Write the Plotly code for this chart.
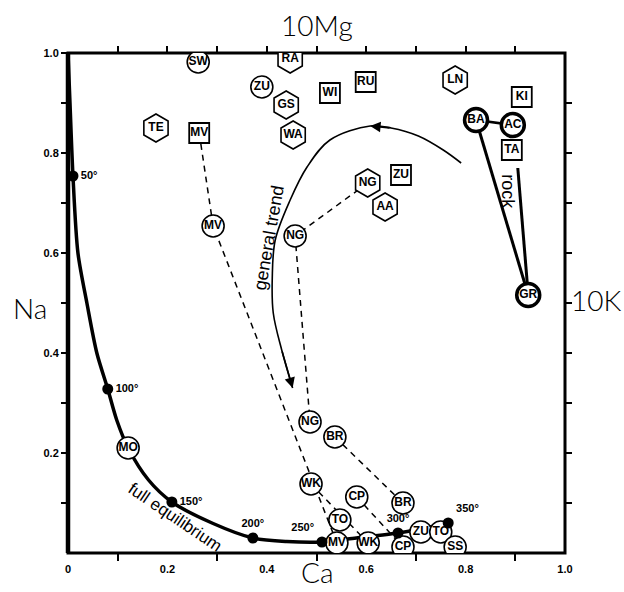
import plotly.graph_objects as go

# ---------------- data ----------------
# full-equilibrium curve (Ca, Na)
eq_x = [0.0, 0.004, 0.01, 0.02, 0.038, 0.058, 0.08, 0.098, 0.121, 0.162, 0.209, 0.292, 0.372, 0.44, 0.511, 0.58, 0.664, 0.71, 0.765]
eq_y = [1.0, 0.9, 0.754, 0.6, 0.5, 0.4, 0.328, 0.266, 0.21, 0.146, 0.102, 0.059, 0.03, 0.023, 0.022, 0.03, 0.04, 0.048, 0.06]

# temperature points on the curve
temp_x = [0.01, 0.08, 0.209, 0.372, 0.511, 0.664, 0.765]
temp_y = [0.754, 0.328, 0.102, 0.03, 0.022, 0.04, 0.06]
temp_labels = ["50°", "100°", "150°", "200°", "250°", "300°", "350°"]
temp_pos = ["middle right", "middle right", "middle right", "top center", "top left", "top center", "top right"]

# general trend curve (from right end, over the top, down to the arrow)
trend_x = [0.791, 0.755, 0.705, 0.65, 0.608, 0.527, 0.481, 0.447, 0.417, 0.411, 0.413, 0.43, 0.452]
trend_y = [0.78, 0.806, 0.834, 0.85, 0.854, 0.826, 0.772, 0.706, 0.626, 0.55, 0.48, 0.406, 0.33]

# sample points
circle_labels = ["SW", "ZU", "MV", "NG", "NG", "BR", "WK", "CP", "BR", "TO", "MV", "WK", "CP", "ZU", "TO", "SS", "MO"]
circle_x = [0.262, 0.39, 0.292, 0.457, 0.487, 0.537, 0.489, 0.581, 0.674, 0.547, 0.541, 0.604, 0.674, 0.71, 0.75, 0.779, 0.121]
circle_y = [0.982, 0.932, 0.654, 0.634, 0.262, 0.232, 0.138, 0.112, 0.1, 0.066, 0.02, 0.02, 0.012, 0.042, 0.042, 0.012, 0.21]

hex_labels = ["RA", "GS", "WA", "TE", "LN", "NG", "AA"]
hex_x = [0.447, 0.439, 0.453, 0.177, 0.779, 0.603, 0.638]
hex_y = [0.988, 0.896, 0.836, 0.85, 0.946, 0.74, 0.692]

square_labels = ["MV", "WI", "RU", "KI", "TA", "ZU"]
square_x = [0.264, 0.527, 0.599, 0.913, 0.893, 0.67]
square_y = [0.84, 0.92, 0.942, 0.912, 0.806, 0.756]

rock_labels = ["BA", "AC", "GR"]
rock_x = [0.821, 0.895, 0.926]
rock_y = [0.866, 0.856, 0.516]

# dashed evolution paths
paths = {
    "MV": ([0.264, 0.292, 0.541], [0.84, 0.654, 0.02]),
    "NG": ([0.603, 0.457, 0.487], [0.74, 0.634, 0.262]),
    "BR": ([0.537, 0.674], [0.232, 0.1]),
    "CP": ([0.581, 0.674], [0.112, 0.012]),
    "WK": ([0.489, 0.604], [0.138, 0.02]),
}

# second "rock" line
rock2_x = [0.905, 0.926]
rock2_y = [0.77, 0.516]

x_tick_vals = [0, 0.2, 0.4, 0.6, 0.8, 1.0]
x_tick_text = ["0", "0.2", "0.4", "0.6", "0.8", "1.0"]
x_minor_vals = [0.1, 0.3, 0.5, 0.7, 0.9]
y_tick_vals = [0.1, 0.2, 0.3, 0.4, 0.5, 0.6, 0.7, 0.8, 0.9, 1.0]
y_tick_text = ["", "0.2", "", "0.4", "", "0.6", "", "0.8", "", "1.0"]
frame_tick_vals = [0.1, 0.2, 0.3, 0.4, 0.5, 0.6, 0.7, 0.8, 0.9]

# ---------------- figure ----------------
LBL = dict(family="Liberation Sans Narrow, Liberation Sans", size=12, color="black", weight="bold")
TITLE_FONT = dict(family="Lato", size=28, color="black", weight=300)
SMALL = dict(family="Liberation Sans Narrow, Liberation Sans", size=11, color="black", weight="bold")

fig = go.Figure()

for name, (px, py) in paths.items():
    fig.add_trace(go.Scatter(x=px, y=py, mode="lines",
                             line=dict(color="black", width=1.5, dash="6px,5px"),
                             hoverinfo="skip"))

fig.add_trace(go.Scatter(x=trend_x, y=trend_y, mode="lines",
                         line=dict(color="black", width=1.6, shape="spline", smoothing=1.0),
                         hoverinfo="skip"))

fig.add_trace(go.Scatter(x=eq_x, y=eq_y, mode="lines",
                         line=dict(color="black", width=3.5, shape="spline", smoothing=0.8),
                         hoverinfo="skip"))

fig.add_trace(go.Scatter(x=[rock_x[0], rock_x[2]], y=[rock_y[0], rock_y[2]], mode="lines",
                         line=dict(color="black", width=3)))
fig.add_trace(go.Scatter(x=[rock_x[0], rock_x[1]], y=[rock_y[0], rock_y[1]], mode="lines",
                         line=dict(color="black", width=2.5)))
fig.add_trace(go.Scatter(x=rock2_x, y=rock2_y, mode="lines",
                         line=dict(color="black", width=3)))

fig.add_trace(go.Scatter(x=circle_x, y=circle_y, mode="markers+text", text=circle_labels,
                         textposition="middle center", textfont=LBL,
                         marker=dict(symbol="circle", size=22, color="white",
                                     line=dict(color="black", width=1.6))))
fig.add_trace(go.Scatter(x=hex_x, y=hex_y, mode="markers+text", text=hex_labels,
                         textposition="middle center", textfont=LBL,
                         marker=dict(symbol="hexagon", size=28, color="white",
                                     line=dict(color="black", width=1.6))))
fig.add_trace(go.Scatter(x=square_x, y=square_y, mode="markers+text", text=square_labels,
                         textposition="middle center", textfont=LBL,
                         marker=dict(symbol="square", size=20, color="white",
                                     line=dict(color="black", width=1.8))))
fig.add_trace(go.Scatter(x=rock_x, y=rock_y, mode="markers+text", text=rock_labels,
                         textposition="middle center", textfont=LBL,
                         marker=dict(symbol="circle", size=23, color="white",
                                     line=dict(color="black", width=3.5))))

fig.add_trace(go.Scatter(x=temp_x, y=temp_y, mode="markers+text", text=temp_labels,
                         textposition=temp_pos, textfont=SMALL,
                         marker=dict(symbol="circle", size=11, color="black")))

# invisible trace to carry the frame axes (top / right)
fig.add_trace(go.Scatter(x=[None], y=[None], xaxis="x2", yaxis="y2", mode="markers",
                         showlegend=False, hoverinfo="skip"))

# arrowheads on the general trend curve
fig.add_annotation(x=trend_x[4], y=trend_y[4], ax=trend_x[3], ay=trend_y[3],
                   xref="x", yref="y", axref="x", ayref="y", text="",
                   showarrow=True, arrowhead=2, arrowsize=1.3, arrowwidth=1.6, arrowcolor="black")
fig.add_annotation(x=trend_x[-1], y=trend_y[-1], ax=trend_x[-2], ay=trend_y[-2],
                   xref="x", yref="y", axref="x", ayref="y", text="",
                   showarrow=True, arrowhead=2, arrowsize=1.3, arrowwidth=1.6, arrowcolor="black")

# in-plot text
fig.add_annotation(x=0.404, y=0.63, text="general trend", showarrow=False, textangle=-80,
                   font=dict(family="Liberation Sans", size=18, color="black"))
fig.add_annotation(x=0.216, y=0.072, text="full equilibrium", showarrow=False, textangle=34,
                   font=dict(family="Liberation Sans", size=17, color="black"))
fig.add_annotation(x=0.885, y=0.722, text="rock", showarrow=False, textangle=90,
                   font=dict(family="Liberation Sans", size=18, color="black"))

# axis titles
for txt, px, py in [("10Mg", 0.5, 1.056), ("10K", 1.063, 0.506), ("Na", -0.076, 0.49), ("Ca", 0.5, -0.038)]:
    fig.add_annotation(xref="paper", yref="paper", x=px, y=py, text=txt, showarrow=False,
                       xanchor="center", yanchor="middle", font=TITLE_FONT)

# plot frame (axis lines)
fig.add_shape(type="rect", xref="paper", yref="paper", x0=0, x1=1, y0=0, y1=1,
              line=dict(color="black", width=3), layer="below")
fig.add_shape(type="line", xref="paper", yref="paper", x0=0, x1=0, y0=0, y1=1,
              line=dict(color="black", width=4.5), layer="below")

TICKFONT = dict(family="Liberation Sans Narrow, Liberation Sans", size=11, color="black", weight="bold")

fig.update_layout(
    width=624, height=592,
    margin=dict(l=68, r=59, t=53, b=39),
    paper_bgcolor="white", plot_bgcolor="white",
    showlegend=False,
    xaxis=dict(range=[0, 1], showgrid=False, zeroline=False, showline=False,
               tickmode="array", tickvals=x_tick_vals, ticktext=x_tick_text,
               ticks="", tickfont=TICKFONT, ticklabelstandoff=8,
               minor=dict(tickmode="array", tickvals=x_minor_vals, ticks="outside",
                          ticklen=7, tickwidth=2, tickcolor="black", showgrid=False)),
    yaxis=dict(range=[0, 1], showgrid=False, zeroline=False, showline=False,
               tickmode="array", tickvals=y_tick_vals, ticktext=y_tick_text,
               ticks="outside", ticklen=6, tickwidth=2, tickcolor="black", tickfont=TICKFONT),
    xaxis2=dict(range=[0, 1], overlaying="x", side="top", anchor="y", showgrid=False,
                zeroline=False, showline=False,
                tickmode="array", tickvals=frame_tick_vals, ticks="outside", ticklen=6,
                tickwidth=2, tickcolor="black", showticklabels=False),
    yaxis2=dict(range=[0, 1], overlaying="y", side="right", anchor="x", showgrid=False,
                zeroline=False, showline=False,
                tickmode="array", tickvals=frame_tick_vals, ticks="outside", ticklen=6,
                tickwidth=2, tickcolor="black", showticklabels=False),
)

fig.write_html("out.html")
